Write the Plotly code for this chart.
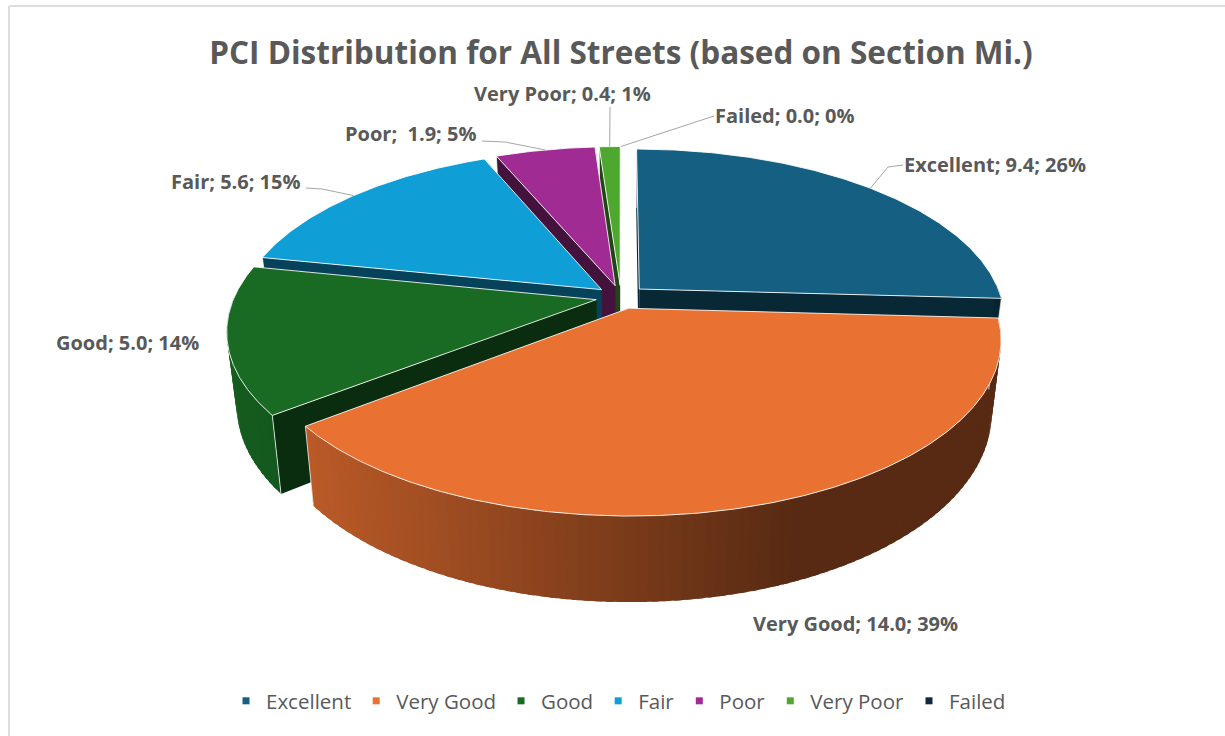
import numpy as np
import plotly.graph_objects as go

# ---- data ----
categories = ["Excellent", "Very Good", "Good", "Fair", "Poor", "Very Poor", "Failed"]
values = [9.4, 14.0, 5.0, 5.6, 1.9, 0.4, 0.0]
colors = ["#156082", "#E97132", "#196B24", "#0F9ED5", "#A02B93", "#4EA72E", "#0E2841"]
title_text = "PCI Distribution for All Streets (based on Section Mi.)"

# ---- view of the tilted pie (screen pixels) ----
CX, CY = 621, 297
A, B, P = 362, 167, 0.175
PULL = 0.07
DEPTH = 70
TAPER = 0.975
TEXT = "#595959"
FONT = "Open Sans"

total = sum(values)
fractions = [v / total for v in values]
ends = np.cumsum(fractions) * 360
starts = np.concatenate([[0], ends[:-1]])


def project(theta, r, mid):
    t, m = np.radians(theta), np.radians(mid)
    X = r * np.sin(t) + PULL * np.sin(m)
    Y = -(r * np.cos(t) + PULL * np.cos(m))
    w = 1 - P * Y
    sx = CX + A * X / w
    sy = CY + B * Y / w
    return sx, sy, CX + (sx - CX) * TAPER, sy + DEPTH / w


def shade(hex_color, f):
    c = [int(hex_color[i:i + 2], 16) for i in (1, 3, 5)]
    return "rgb(%d,%d,%d)" % tuple(int(v * f) for v in c)


def poly(xs, ys, fill, line=None, width=0):
    return go.Scatter(x=list(xs) + [xs[0]], y=list(ys) + [ys[0]], mode="lines", fill="toself",
                      fillcolor=fill, line=dict(color=line or fill, width=width),
                      hoverinfo="skip", showlegend=False)


def wall_factor(x):
    return float(np.interp(x, [230, 305, 790], [0.86, 0.80, 0.38]))


fig = go.Figure()

# legend entries
for name, col in zip(categories, colors):
    fig.add_trace(go.Scatter(x=[None], y=[None], mode="markers", name=name,
                             marker=dict(symbol="square", size=7, color=col)))

# painter's order: back of the pie first
order = [5, 4, 3, 0, 2, 1, 6]
for i in order:
    if values[i] <= 0:
        continue
    s, e = starts[i], ends[i]
    mid = (s + e) / 2
    col = colors[i]
    ax, ay, abx, aby = project(0, 0, mid)
    # cut faces
    for th in (s, e):
        ex, ey, ebx, eby = project(th, 1, mid)
        fig.add_trace(poly([ax, ex, ebx, abx], [ay, ey, eby, aby], shade(col, 0.42)))
    # outer wall: only the part facing the viewer, split in strips for the shading
    n = max(2, int((e - s) / 1.5))
    th = np.linspace(s, e, n + 1)
    step = th[1] - th[0]
    for a in th[:-1]:
        if np.cos(np.radians(a + step / 2)) > 0.02:
            continue
        b = min(a + step * 1.6, e)
        x1, y1, bx1, by1 = project(a, 1, mid)
        x2, y2, bx2, by2 = project(b, 1, mid)
        fig.add_trace(poly([x1, x2, bx2, bx1], [y1, y2, by2, by1], shade(col, wall_factor((x1 + x2) / 2))))
    # corner highlights
    for t0 in (s, e):
        x1, y1, bx1, by1 = project(t0, 1, mid)
        fig.add_trace(go.Scatter(x=[x1, bx1], y=[y1, by1], mode="lines",
                                 line=dict(color="rgba(255,255,255,0.75)", width=1),
                                 hoverinfo="skip", showlegend=False))
    # top face
    th = np.linspace(s, e, max(3, int(e - s) * 2))
    tx, ty, _, _ = project(th, 1, mid)
    fig.add_trace(poly([ax] + list(tx), [ay] + list(ty), col, "rgba(255,255,255,0.85)", 1))

# data labels: anchor, alignment, leader elbow (None = no leader)
label_pos = {
    "Excellent": (902, 164, "left", (888, 167)),
    "Very Good": (855, 623, "center", None),
    "Good": (127, 342, "center", None),
    "Fair": (169, 181, "left", (322, 189)),
    "Poor": (343, 133, "left", (505, 142)),
    "Very Poor": (472, 93, "left", None),
    "Failed": (713, 115, "left", None),
}
label_ends = {"Excellent": 903, "Fair": 306, "Poor": 482, "Very Poor": 610, "Failed": 714}
label_end_y = {"Excellent": 165, "Fair": 188, "Poor": 141, "Very Poor": 107, "Failed": 116}
for i, name in enumerate(categories):
    x, y, anchor, elbow = label_pos[name]
    pct = round(fractions[i] * 100)
    sep = ";  " if name == "Poor" else "; "
    fig.add_annotation(x=x, y=y, text=f"<b>{name}{sep}{values[i]:.1f}; {pct}%</b>", showarrow=False,
                       xanchor=anchor, yanchor="middle",
                       font=dict(family=FONT, size=20, color=TEXT))
    if name in label_ends:
        mid = (starts[i] + ends[i]) / 2
        ex, ey, _, _ = project(mid, 1, mid)
        xs, ys = [label_ends[name]], [label_end_y[name]]
        if elbow:
            xs.append(elbow[0]); ys.append(elbow[1])
        xs.append(ex); ys.append(ey)
        fig.add_trace(go.Scatter(x=xs, y=ys, mode="lines", line=dict(color="#A6A6A6", width=1),
                                 hoverinfo="skip", showlegend=False))

fig.update_layout(
    width=1225, height=736, margin=dict(l=0, r=0, t=0, b=0),
    paper_bgcolor="white", plot_bgcolor="white",
    xaxis=dict(range=[0, 1225], visible=False, fixedrange=True),
    yaxis=dict(range=[736, 0], visible=False, fixedrange=True),
    title=dict(text=f"<b>{title_text}</b>", x=621 / 1225, xanchor="center", y=1 - 53 / 736, yanchor="middle",
               font=dict(family=FONT, size=31.5, color=TEXT)),
    legend=dict(orientation="h", x=226 / 1225, xanchor="left", y=1 - 701 / 736, yanchor="middle",
                font=dict(family=FONT, size=20.5, color=TEXT), itemwidth=30, bgcolor="rgba(0,0,0,0)"),
    shapes=[
        dict(type="line", xref="paper", yref="paper", x0=9 / 1225, x1=9 / 1225, y0=0, y1=1 - 6 / 736,
             line=dict(color="#DDDDDD", width=2)),
        dict(type="line", xref="paper", yref="paper", x0=9 / 1225, x1=1, y0=1 - 6 / 736, y1=1 - 6 / 736,
             line=dict(color="#DDDDDD", width=2)),
    ],
)
fig.write_html("out.html", config=dict(displayModeBar=False),
               post_script="document.body.style.margin='0';document.body.style.overflow='hidden';")
